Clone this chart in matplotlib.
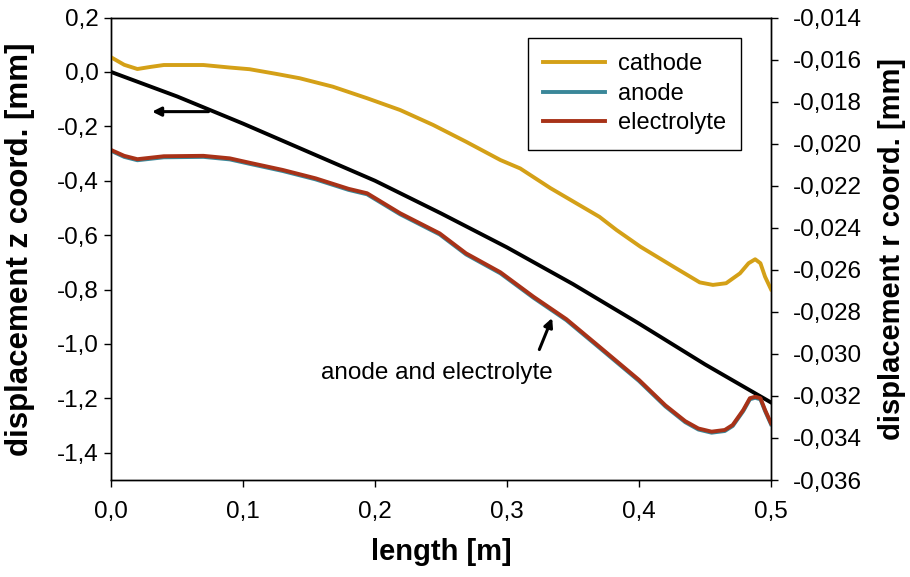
import matplotlib
matplotlib.use("Agg")
import matplotlib.pyplot as plt
from matplotlib.ticker import FuncFormatter, MultipleLocator

plt.rcParams['font.family'] = ['Liberation Sans', 'DejaVu Sans']

# black line, left axis (z displacement)
z_x = [0.0, 0.05, 0.10, 0.15, 0.20, 0.25, 0.30, 0.35, 0.40, 0.45, 0.50]
z_disp = [0.0, -0.09, -0.19, -0.295, -0.40, -0.52, -0.645, -0.78, -0.925, -1.075, -1.215]

# cathode, right axis (r displacement)
cath_x = [0.0, 0.01, 0.02, 0.03, 0.04, 0.07, 0.09, 0.105, 0.125, 0.143, 0.168, 0.194,
          0.219, 0.244, 0.269, 0.295, 0.31, 0.333, 0.37, 0.383, 0.401, 0.426, 0.446,
          0.456, 0.466, 0.4765, 0.483, 0.488, 0.492, 0.4955, 0.5]
cath_r = [-0.01589, -0.01625, -0.01645, -0.01635, -0.01626, -0.01626, -0.01638, -0.01646,
          -0.01668, -0.01689, -0.01729, -0.01784, -0.01840, -0.01911, -0.01991, -0.02078,
          -0.02118, -0.02212, -0.02348, -0.02411, -0.02490, -0.02585, -0.02660, -0.02672,
          -0.02664, -0.02617, -0.02569, -0.02550, -0.02569, -0.02633, -0.02693]

# anode and electrolyte, right axis
ae_x = [0.0, 0.01, 0.02, 0.04, 0.07, 0.09, 0.105, 0.13, 0.155, 0.18, 0.194, 0.219,
        0.249, 0.269, 0.295, 0.32, 0.345, 0.37, 0.40, 0.42, 0.435, 0.445, 0.455,
        0.465, 0.471, 0.479, 0.484, 0.488, 0.492, 0.4955, 0.5]
elec_r = [-0.02030, -0.02058, -0.02074, -0.02060, -0.02058, -0.02070, -0.02091, -0.02125,
          -0.02165, -0.02215, -0.02236, -0.02331, -0.02427, -0.02522, -0.02612, -0.02728,
          -0.02835, -0.02966, -0.03124, -0.03245, -0.03320, -0.03355, -0.03370, -0.03362,
          -0.03338, -0.03267, -0.03211, -0.03204, -0.03211, -0.03267, -0.03330]
anode_r = [-0.02034, -0.02063, -0.02079, -0.02065, -0.02063, -0.02075, -0.02096, -0.02130,
           -0.02170, -0.02220, -0.02241, -0.02336, -0.02432, -0.02527, -0.02617, -0.02733,
           -0.02840, -0.02971, -0.03129, -0.03250, -0.03325, -0.03360, -0.03375, -0.03367,
           -0.03343, -0.03272, -0.03216, -0.03209, -0.03216, -0.03272, -0.03335]


def comma(fmt):
    return FuncFormatter(lambda v, pos: (fmt % v).replace('.', ','))


fig = plt.figure(figsize=(9.1, 5.77), dpi=100)
ax = fig.add_axes([111 / 910, 1 - 480 / 577, 660 / 910, 462.5 / 577])
ax2 = ax.twinx()

ax.plot(z_x, z_disp, color='black', lw=2.8)
ax2.plot(ae_x, anode_r, color='#3A8799', lw=2.8, label='anode')
ax2.plot(ae_x, elec_r, color='#A83218', lw=2.8, label='electrolyte')
ax2.plot(cath_x, cath_r, color='#D4A017', lw=2.8, label='cathode')

ax.set_xlim(0, 0.5)
ax.set_ylim(-1.5, 0.2)
ax2.set_ylim(-0.036, -0.014)
ax.xaxis.set_major_locator(MultipleLocator(0.1))
ax2.yaxis.set_major_locator(MultipleLocator(0.002))
ax.xaxis.set_major_formatter(comma('%.1f'))
ax.yaxis.set_major_formatter(comma('%.1f'))
ax2.yaxis.set_major_formatter(comma('%.3f'))
ax.set_yticks([0.2, 0.0, -0.2, -0.4, -0.6, -0.8, -1.0, -1.2, -1.4])

for a in (ax, ax2):
    a.tick_params(direction='out', length=5, width=1, labelsize=17.5, colors='black')
    for s in a.spines.values():
        s.set_linewidth(1)
ax.tick_params(axis='x', pad=10)
ax.tick_params(axis='y', pad=4)
ax2.tick_params(axis='y', pad=11)

ax.set_xlabel('length [m]', fontsize=21, fontweight='bold')
ax.set_ylabel('displacement z coord. [mm]', fontsize=22.5, fontweight='bold')
ax2.set_ylabel('displacement r coord. [mm]', fontsize=21, fontweight='bold')
ax.xaxis.set_label_coords(0.5, -0.125)
ax.yaxis.set_label_coords(-0.115, 0.5)
ax2.yaxis.set_label_coords(1.162, 0.5)

# legend order as in the figure
handles, labels = ax2.get_legend_handles_labels()
order = [labels.index(n) for n in ['cathode', 'anode', 'electrolyte']]
leg = ax2.legend([handles[i] for i in order], [labels[i] for i in order],
                 loc='upper left', bbox_to_anchor=(528 / 910, 1 - 38 / 577),
                 bbox_transform=fig.transFigure, borderaxespad=0, fontsize=17,
                 handlelength=2.6, labelspacing=0.32, fancybox=False,
                 edgecolor='black', framealpha=1, borderpad=0.65, handletextpad=0.55)
leg.get_frame().set_linewidth(1)

# annotations
ax.annotate('', xy=(0.029, -0.146), xytext=(0.076, -0.146),
            arrowprops=dict(arrowstyle='-|>', color='black', lw=2.2, mutation_scale=13))
ax.annotate('', xy=(0.335, -0.895), xytext=(0.3237, -1.03),
            arrowprops=dict(arrowstyle='-|>', color='black', lw=2.2, mutation_scale=13))
ax.text(0.247, -1.108, 'anode and electrolyte', fontsize=17.5, ha='center', va='center')

fig.savefig('out.png', dpi=100)
